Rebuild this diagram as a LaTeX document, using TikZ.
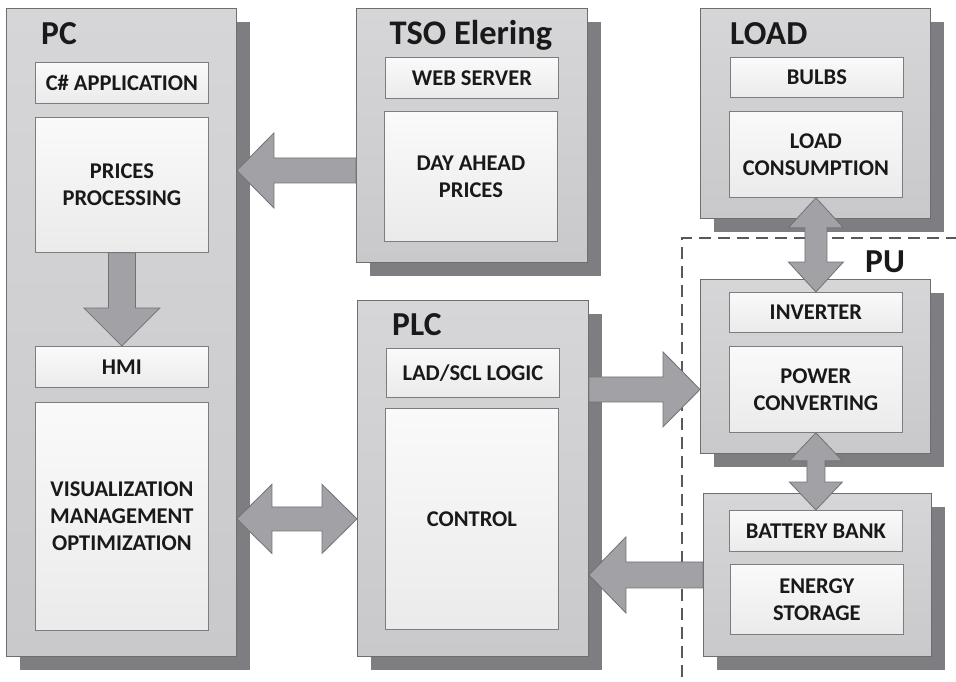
\documentclass[tikz,border=0pt]{standalone}
\usepackage{fontspec}
\setmainfont{Carlito}
\usetikzlibrary{calc,shadows}

\definecolor{unitfill}{HTML}{D6D6D8}
\definecolor{unitfilldark}{HTML}{C9C9CB}
\definecolor{unitline}{HTML}{6E6E6E}
\definecolor{shadowgray}{HTML}{7E7E82}
\definecolor{arrowfill}{HTML}{A2A2A6}
\definecolor{arrowline}{HTML}{727276}

% fat arrow: shaft half width, head half width, head length, from, to
\newcommand{\fatarrow}[5]{%
  \coordinate (hb) at ($(#5)!#3pt!(#4)$);
  \filldraw[blockarrow] ($(#4)!#1pt!-90:(#5)$) -- ($(hb)!#1pt!-90:(#5)$)
    -- ($(hb)!#2pt!-90:(#5)$) -- (#5) -- ($(hb)!#2pt!90:(#5)$)
    -- ($(hb)!#1pt!90:(#5)$) -- ($(#4)!#1pt!90:(#5)$) -- cycle;}

% same with a head at both ends
\newcommand{\fattwoarrow}[5]{%
  \coordinate (ha) at ($(#4)!#3pt!(#5)$);
  \coordinate (hb) at ($(#5)!#3pt!(#4)$);
  \filldraw[blockarrow] (#4) -- ($(ha)!#2pt!90:(#5)$) -- ($(ha)!#1pt!90:(#5)$)
    -- ($(hb)!#1pt!90:(#5)$) -- ($(hb)!#2pt!90:(#5)$) -- (#5)
    -- ($(hb)!#2pt!-90:(#5)$) -- ($(hb)!#1pt!-90:(#5)$)
    -- ($(ha)!#1pt!-90:(#5)$) -- ($(ha)!#2pt!-90:(#5)$) -- cycle;}

\begin{document}
\begin{tikzpicture}[x=1pt, y=-1pt]

% Styles
\tikzset{
  unitbox/.style={draw=unitline, line width=0.9pt, top color=unitfill, bottom color=unitfilldark,
    anchor=north west, inner sep=0pt,
    drop shadow={shadow xshift=14pt, shadow yshift=-14pt, fill=shadowgray, opacity=1}},
  partbox/.style={draw=unitline!90, line width=0.8pt, top color=white!98!black, bottom color=white!92!black,
    anchor=north west, inner sep=0pt, minimum width=173pt, align=center,
    font=\bfseries\fontsize{22.5}{27}\selectfont, text=black!90},
  unittitle/.style={font=\bfseries\fontsize{33.5}{33.5}\selectfont, text=black!90, inner sep=0pt},
  blockarrow/.style={fill=arrowfill, draw=arrowline, line width=0.8pt, line join=miter},
  puframe/.style={draw=black!65, line width=1.1pt, dash pattern=on 12pt off 7pt}
}

\fill[white] (0,0) rectangle (956,682);
\useasboundingbox (0,0) rectangle (956,682);

% PU frame
\coordinate (pucorner) at (682,238);
\draw[puframe] (682,677) -- (pucorner) -- (956,238);

% PC
\node[unitbox, minimum width=230pt, minimum height=648pt] (pc) at (6,8) {};
\node[unittitle, anchor=base west] (pctitle) at (41,45) {PC};
\node[partbox, minimum height=41pt] (capp) at (35,62) {C\# APPLICATION};
\node[partbox, minimum height=135pt] (pp) at (35,117) {PRICES\\PROCESSING};
\node[partbox, minimum height=41pt] (hmi) at (35,346) {HMI};
\node[partbox, minimum height=228pt] (vis) at (35,402) {VISUALIZATION\\MANAGEMENT\\OPTIMIZATION};

% TSO Elering
\node[unitbox, minimum width=231pt, minimum height=254pt] (tso) at (356,8) {};
\node[unittitle, anchor=base, font=\bfseries\fontsize{34.5}{34.5}\selectfont] (tsotitle) at (471,45) {TSO Elering};
\node[partbox, minimum height=41pt] (web) at (385,57) {WEB SERVER};
\node[partbox, minimum height=130pt] (dap) at (384,111) {DAY AHEAD\\PRICES};

% LOAD
\node[unitbox, minimum width=230pt, minimum height=210pt] (load) at (700,8) {};
\node[unittitle, anchor=base west] (loadtitle) at (730,45) {LOAD};
\node[partbox, minimum height=40pt] (bulbs) at (730,57) {BULBS};
\node[partbox, minimum height=86pt] (lc) at (729,111) {LOAD\\CONSUMPTION};

% PLC
\node[unitbox, minimum width=231pt, minimum height=356pt] (plc) at (357,300) {};
\node[unittitle, anchor=base west] (plctitle) at (392,335) {PLC};
\node[partbox, minimum height=49pt] (lad) at (386,348) {LAD/SCL LOGIC};
\node[partbox, minimum height=221pt] (ctl) at (385,408) {CONTROL};

% PU
\node[unittitle, anchor=base west] (putitle) at (865,272) {PU};
\node[unitbox, minimum width=230pt, minimum height=174pt] (pu) at (700,279) {};
\node[partbox, minimum height=40pt] (inv) at (729,292) {INVERTER};
\node[partbox, minimum height=86pt] (pcv) at (729,346) {POWER\\CONVERTING};

% Battery
\node[unitbox, minimum width=228pt, minimum height=163pt] (bat) at (703,493) {};
\node[partbox, minimum height=41pt] (bb) at (729,510) {BATTERY BANK};
\node[partbox, minimum height=70pt] (es) at (730,564) {ENERGY\\STORAGE};

% Arrows
\coordinate (tsoout) at ([yshift=-35pt]tso.west);
\coordinate (pcin) at (pc.east |- tsoout);
\fatarrow{12.5}{37.5}{37}{tsoout}{pcin}

\fatarrow{13.5}{38}{38}{pp.south}{hmi.north}

\coordinate (pcside) at (pc.east |- ctl.center);
\coordinate (plcside) at (plc.west |- ctl.center);
\fattwoarrow{12}{34.5}{35}{pcside}{plcside}

\coordinate (plcout) at (plc.east |- pcv.center);
\coordinate (puin) at (pu.west |- pcv.center);
\fatarrow{12.5}{37.5}{37}{plcout}{puin}

\coordinate (plcin) at (plc.east |- bat.west);
\fatarrow{13}{38}{37}{bat.west}{plcin}

\fattwoarrow{11}{27.5}{30}{lc.south}{inv.north}
\fattwoarrow{9}{26.5}{28}{pcv.south}{bb.north}

\end{tikzpicture}
\end{document}
